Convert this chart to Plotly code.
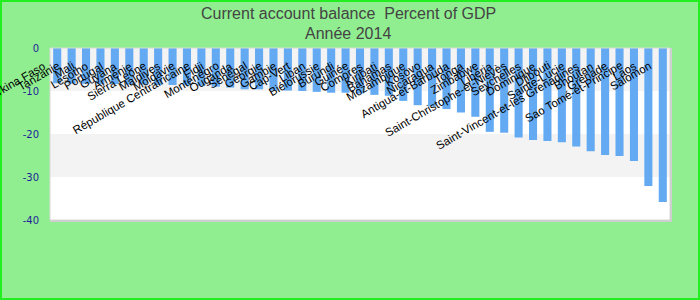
import plotly.graph_objects as go

countries = [
    "Burkina Faso", "Tanzanie", "Mali", "Lesotho", "Portugal", "Guyana", "Arménie",
    "Sierra Leone", "Maldives", "Moldavie", "République Centrafricaine", "Fidji",
    "Monténégro", "Ouganda", "Sénégal", "Géorgie", "Gambie", "Cap-Vert", "Liban",
    "Biélorussie", "Burundi", "Guinée", "Comores", "Kiribati", "Bahamas", "Mozambique",
    "Kosovo", "Nicaragua", "Antigua-et-Barbuda", "Tonga", "Zimbabwe", "Libéria",
    "Saint-Christophe-et-Niévès", "Seychelles", "Dominique", "Djibouti", "Sainte-Lucie",
    "Saint-Vincent-et-les Grenadines", "Bhoutan", "Grenade", "Sao Tomé-et-Principe",
    "Laos", "Salomon",
]
values = [
    -8.2, -8.3, -8.3, -8.4, -8.4, -8.5, -8.5, -8.6, -8.6, -8.7, -8.8, -9.0,
    -9.2, -9.6, -9.6, -9.9, -9.9, -10.0, -10.2, -10.4, -10.4, -10.6, -10.9, -11.1,
    -12.3, -13.3, -13.6, -14.2, -15.0, -16.0, -19.5, -19.7, -20.8, -21.4, -21.6,
    -21.9, -22.9, -24.0, -24.9, -25.1, -26.3, -32.1, -35.8,
]
y_ticks = [0, -10, -20, -30, -40]
title_lines = ["Current account balance  Percent of GDP", "Année 2014"]

W, H = 700, 300
ml, mr, mt, mb = 50, 30, 48, 80
pw, ph = W - ml - mr, H - mt - mb

fig = go.Figure(go.Bar(
    x=countries, y=values, marker=dict(color="#63aaf3", line=dict(width=0)),
    hoverinfo="x+y",
))

shapes = []
for i, (a, b) in enumerate(zip(y_ticks[:-1], y_ticks[1:])):
    if i % 2 == 0:
        shapes.append(dict(type="rect", xref="paper", yref="y", x0=0, x1=1, y0=b, y1=a,
                           fillcolor="#f3f3f3", line=dict(width=0), layer="below"))
shapes.append(dict(type="rect", xref="paper", yref="paper", x0=0, x1=1, y0=0, y1=1,
                   line=dict(color="#d8d8d8", width=1), fillcolor="rgba(0,0,0,0)"))
shapes.append(dict(type="line", xref="paper", yref="paper", x0=1 + 1/pw, x1=1 + 1/pw, y0=-1/ph, y1=1,
                   line=dict(color="#cfcfcf", width=2)))
shapes.append(dict(type="line", xref="paper", yref="paper", x0=0, x1=1 + 2/pw, y0=-1/ph, y1=-1/ph,
                   line=dict(color="#cfcfcf", width=2)))
shapes.append(dict(type="rect", xref="paper", yref="paper",
                   x0=(1 - ml) / pw, x1=(W - 1 - ml) / pw,
                   y0=-(mb - 1) / ph, y1=(ph + mt - 1) / ph,
                   line=dict(color="#22ee22", width=2), fillcolor="rgba(0,0,0,0)"))

annotations = []
for c in countries:
    annotations.append(dict(x=c, y=0, xref="x", yref="y", text=c, showarrow=False,
                            textangle=-30, xanchor="right", yanchor="top",
                            xshift=-7, yshift=-9,
                            font=dict(family="Liberation Sans, Arial", size=11.5, color="#000000")))
for txt, py in zip(title_lines, [13, 33]):
    annotations.append(dict(x=(W / 2 - 2 - ml) / pw, y=(ph + mt - py) / ph, xref="paper", yref="paper",
                            text=txt, showarrow=False, xanchor="center", yanchor="middle",
                            font=dict(family="Liberation Sans, Arial", size=16, color="#444444")))

fig.update_layout(
    width=W, height=H,
    margin=dict(l=ml, r=mr, t=mt, b=mb, pad=0),
    paper_bgcolor="#90ee90", plot_bgcolor="#ffffff",
    bargap=0.44,
    showlegend=False,
    shapes=shapes,
    annotations=annotations,
    xaxis=dict(range=[-0.5, len(countries) - 0.5], autorange=False,
               showticklabels=False, showgrid=False, zeroline=False, showline=False,
               ticks="", fixedrange=True),
    yaxis=dict(range=[-40, 0], autorange=False, tickvals=y_ticks,
               ticktext=[str(v) for v in y_ticks],
               showgrid=False, zeroline=False, showline=False, ticks="",
               ticklabelstandoff=10,
               tickfont=dict(family="DejaVu Sans, Verdana", size=10, color="#1f1f99")),
)

fig.write_html("out.html")
